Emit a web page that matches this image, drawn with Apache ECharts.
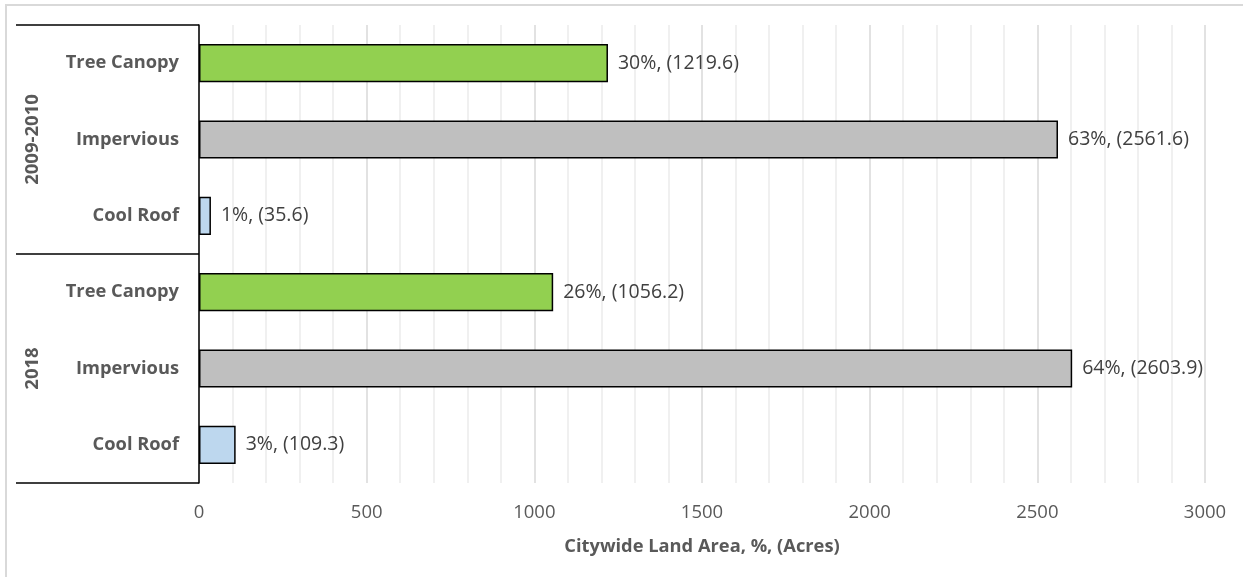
<!DOCTYPE html>
<html>
<head>
<meta charset="utf-8">
<script src="https://cdn.jsdelivr.net/npm/echarts@6/dist/echarts.min.js"></script>
<style>
  html, body { margin: 0; padding: 0; background: #fff; }
  #frame { position: absolute; left: 5px; top: 4px; width: 1260px; height: 600px;
           border-top: 2px solid #d9d9d9; border-left: 2px solid #d9d9d9; box-sizing: border-box; }
  #chart { position: absolute; left: 0; top: 0; width: 1243px; height: 577px; }
</style>
</head>
<body>
<div id="frame"></div>
<div id="chart"></div>
<script>
// Land cover by period (acres and share of citywide land area)
const periods = ['2009-2010', '2018'];
const coverTypes = ['Tree Canopy', 'Impervious', 'Cool Roof'];
const acres2009 = [1219.6, 2561.6, 35.6];
const share2009 = [30, 63, 1];
const acres2018 = [1056.2, 2603.9, 109.3];
const share2018 = [26, 64, 3];
const coverColors = ['#92d050', '#bfbfbf', '#bdd7ee'];
const xTicks = { min: 0, max: 3000, interval: 500 };

const categories = [];
const values = [];
periods.forEach((p, pi) => {
  const acres = pi === 0 ? acres2009 : acres2018;
  const share = pi === 0 ? share2009 : share2018;
  coverTypes.forEach((c, ci) => {
    categories.push(c);
    values.push({
      value: acres[ci],
      share: share[ci],
      itemStyle: { color: coverColors[ci] }
    });
  });
});

const chart = echarts.init(document.getElementById('chart'));
const labelFont = "'Open Sans', 'Noto Sans', sans-serif";

chart.setOption({
  animation: false,
  backgroundColor: 'transparent',
  grid: { left: 199, right: 38, top: 25, bottom: 94, containLabel: false },
  xAxis: {
    type: 'value',
    min: xTicks.min, max: xTicks.max, interval: xTicks.interval,
    axisLine: { show: false },
    axisTick: { show: false },
    axisLabel: { color: '#595959', fontSize: 18.5, fontFamily: labelFont, margin: 20, formatter: v => String(v) },
    splitLine: { show: true, lineStyle: { color: '#d9d9d9', width: 1.5 } },
    minorTick: { show: false, splitNumber: 5 },
    minorSplitLine: { show: true, lineStyle: { color: '#ececec', width: 1.5 } },
    name: 'Citywide Land Area, %, (Acres)',
    nameLocation: 'middle',
    nameGap: 55,
    nameTextStyle: { color: '#595959', fontSize: 18.3, fontWeight: 'bold', fontFamily: labelFont }
  },
  yAxis: [
    {
      type: 'category',
      data: categories,
      inverse: true,
      position: 'left',
      axisLine: { show: false },
      axisTick: { show: false },
      axisLabel: { color: '#595959', fontSize: 18.3, fontWeight: 'bold', fontFamily: labelFont, margin: 20 }
    },
    {
      type: 'category',
      data: periods,
      inverse: true,
      position: 'left',
      offset: 0,
      axisLine: { show: true, lineStyle: { color: '#000', width: 1.5 } },
      axisTick: { show: true, length: 183, lineStyle: { color: '#000', width: 1.5 } },
      axisLabel: { color: '#595959', fontSize: 18.5, fontWeight: 'bold', fontFamily: labelFont, rotate: 90, margin: 157 }
    }
  ],
  series: [{
    type: 'bar',
    yAxisIndex: 0,
    data: values,
    barWidth: '50%',
    itemStyle: { borderColor: '#000', borderWidth: 1.5 },
    label: {
      show: true,
      position: 'right',
      distance: 10,
      color: '#404040',
      fontSize: 19.5,
      fontFamily: labelFont,
      formatter: p => p.data.share + '%, (' + p.data.value + ')'
    }
  }]
});
</script>
</body>
</html>
